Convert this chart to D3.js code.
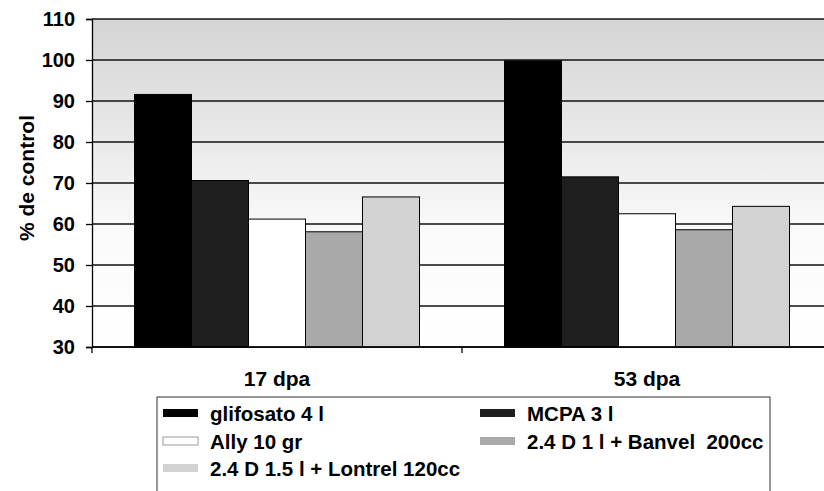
<!DOCTYPE html>
<html>
<head>
<meta charset="utf-8">
<script src="https://cdn.jsdelivr.net/npm/d3@7"></script>
<style>
  body { margin: 0; background: #fff; }
  svg { display: block; font-family: "Liberation Sans", Arial, sans-serif; font-weight: bold; }
</style>
</head>
<body>
<div id="chart"></div>
<script>
// data
const categories = ["17 dpa", "53 dpa"];
const seriesNames = ["glifosato 4 l", "MCPA 3 l", "Ally 10 gr", "2.4 D 1 l + Banvel  200cc", "2.4 D 1.5 l + Lontrel 120cc"];
const glifosato = [91.6, 99.8];
const mcpa = [70.6, 71.5];
const ally = [61.2, 62.5];
const banvel = [58.1, 58.6];
const lontrel = [66.6, 64.3];
const yTicks = [30, 40, 50, 60, 70, 80, 90, 100, 110];

const seriesValues = [glifosato, mcpa, ally, banvel, lontrel];
const fills = ["#000000", "#1e1e1e", "#ffffff", "#a9a9a9", "#d2d2d2"];

const W = 824, H = 491;
const svg = d3.select("#chart").append("svg").attr("width", W).attr("height", H);

const plotLeft = 92, plotTop = 19, plotBottom = 347, plotRight = 832;

const y = d3.scaleLinear().domain([30, 110]).range([plotBottom, plotTop]);
const x0 = d3.scaleBand().domain(categories).range([plotLeft, plotRight]);
const x1 = d3.scaleBand().domain(seriesNames).range([42.5, x0.bandwidth() - 42.5]);

// background gradient (grey at top fading to white)
const defs = svg.append("defs");
const grad = defs.append("linearGradient").attr("id", "bg")
    .attr("x1", 0).attr("y1", 0).attr("x2", 0).attr("y2", 1);
grad.append("stop").attr("offset", "0%").attr("stop-color", "#d4d4d4");
grad.append("stop").attr("offset", "35%").attr("stop-color", "#e8e8e8");
grad.append("stop").attr("offset", "65%").attr("stop-color", "#fafafa");
grad.append("stop").attr("offset", "100%").attr("stop-color", "#ffffff");

svg.append("rect")
    .attr("x", plotLeft).attr("y", plotTop)
    .attr("width", plotRight - plotLeft).attr("height", plotBottom - plotTop)
    .attr("fill", "url(#bg)");

// gridlines
svg.append("g").selectAll("line")
    .data(yTicks)
    .enter().append("line")
    .attr("x1", plotLeft).attr("x2", plotRight)
    .attr("y1", d => y(d)).attr("y2", d => y(d))
    .attr("stroke", "#111").attr("stroke-width", 1.3);

// bars
const groups = svg.append("g").selectAll("g")
    .data(categories)
    .enter().append("g")
    .attr("transform", d => `translate(${x0(d)},0)`);

groups.selectAll("rect")
    .data((c, ci) => seriesNames.map((s, si) => ({ s, si, v: seriesValues[si][ci] })))
    .enter().append("rect")
    .attr("x", d => x1(d.s))
    .attr("y", d => y(d.v))
    .attr("width", x1.bandwidth())
    .attr("height", d => y(30) - y(d.v))
    .attr("fill", d => fills[d.si])
    .attr("stroke", "#000")
    .attr("stroke-width", 1);

// y axis
const yAxis = svg.append("g")
    .attr("transform", `translate(${plotLeft},0)`)
    .call(d3.axisLeft(y).tickValues(yTicks).tickSize(6).tickPadding(11));
yAxis.select(".domain").attr("stroke", "#000").attr("stroke-width", 1.3);
yAxis.selectAll(".tick line").attr("stroke", "#000").attr("stroke-width", 1.3);
yAxis.selectAll("text")
    .attr("font-size", 20).attr("font-weight", "bold")
    .attr("font-family", "Liberation Sans, Arial, sans-serif")
    .attr("fill", "#000");

// x axis
svg.append("line")
    .attr("x1", plotLeft).attr("x2", plotRight)
    .attr("y1", plotBottom).attr("y2", plotBottom)
    .attr("stroke", "#000").attr("stroke-width", 1.3);
svg.append("g").selectAll("line")
    .data(categories)
    .enter().append("line")
    .attr("x1", d => x0(d)).attr("x2", d => x0(d))
    .attr("y1", plotBottom).attr("y2", plotBottom + 6)
    .attr("stroke", "#000").attr("stroke-width", 1.3);
svg.append("g").selectAll("text")
    .data(categories)
    .enter().append("text")
    .attr("x", d => x0(d) + x0.bandwidth() / 2)
    .attr("y", 386)
    .attr("text-anchor", "middle")
    .attr("font-size", 21)
    .text(d => d);

// y label
svg.append("text")
    .attr("transform", "translate(34,178) rotate(-90)")
    .attr("text-anchor", "middle")
    .attr("font-size", 21)
    .text("% de control");

// legend
const lg = svg.append("g");
lg.append("rect")
    .attr("x", 157).attr("y", 397)
    .attr("width", 613).attr("height", 110)
    .attr("fill", "#fff").attr("stroke", "#333").attr("stroke-width", 1);

const legendPos = [
    { x: 163, y: 413 }, { x: 480, y: 413 },
    { x: 163, y: 441 }, { x: 480, y: 441 },
    { x: 163, y: 468 }
];
const items = lg.selectAll("g.item")
    .data(seriesNames)
    .enter().append("g")
    .attr("class", "item")
    .attr("transform", (d, i) => `translate(${legendPos[i].x},${legendPos[i].y})`);
items.append("rect")
    .attr("x", 0).attr("y", -4)
    .attr("width", 35).attr("height", 8)
    .attr("fill", (d, i) => fills[i])
    .attr("stroke", (d, i) => i === 2 ? "#999" : "none");
items.append("text")
    .attr("x", 47).attr("y", 7.5)
    .attr("font-size", 20.5)
    .style("white-space", "pre")
    .text(d => d);
</script>
</body>
</html>
